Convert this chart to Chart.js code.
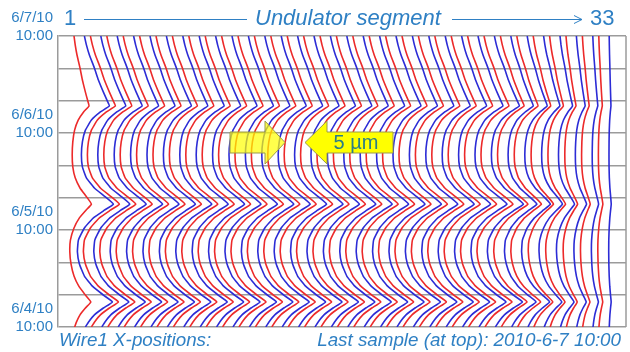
<!DOCTYPE html>
<html>
<head>
<meta charset="utf-8">
<script src="https://cdn.jsdelivr.net/npm/chart.js@4.4.1/dist/chart.umd.min.js"></script>
<style>
  html, body { margin: 0; padding: 0; background: #fff; }
  #wrap { width: 630px; height: 352px; position: relative; }
</style>
</head>
<body>
<div id="wrap"><canvas id="chart"></canvas></div>
<script>
// undulator segments 1..33, one red and one blue trace each
const segments = [1, 2, 3, 4, 5, 6, 7, 8, 9, 10, 11, 12, 13, 14, 15, 16, 17,
                  18, 19, 20, 21, 22, 23, 24, 25, 26, 27, 28, 29, 30, 31, 32, 33];
const dayLabels = ['6/4/10', '6/5/10', '6/6/10', '6/7/10'];

// hours since 6/4/10 10:00 (bottom) up to 6/7/10 10:00 (top)
const hours = [72, 69.8, 67.3, 64.1, 61.1, 58.1, 55.9, 54.7, 53.2, 51.2, 48.7, 45.8,
               42.6, 39.6, 36.9, 34.4, 32.2, 30.4, 28.9, 27, 24.5, 21.5, 18.6, 15.6,
               12.6, 10.1, 7.9, 6.2, 4.7, 3, 1.2, 0];

// typical X deviation from the last sample (µm)
const profile = [0, 0.5, 1.25, 2.5, 3.5, 4.75, 5.75, 6.25, 4, 1.75, 0.25, -0.5,
                 -0.75, -0.5, 0.5, 2.5, 5.25, 7.25, 5, 2.25, 0, -1.5, -1.75, -1.25,
                 0, 2, 4.75, 7, 4.75, 2.5, 1, 0.25];

// relative swing of each trace
const redGain = [0.6, 1, 1, 1, 1, 1, 1, 1, 1, 1, 1, 1, 1, 1, 1, 1, 1,
                 1, 1, 1, 1, 1, 1, 1, 1, 1, 0.95, 0.85, 0.7, 0.55, 0.4, 0.27, 0.14];
const blueGain = [1, 1, 1, 1, 1, 1, 1, 1, 1, 1, 1, 1, 1, 1, 1, 1, 1,
                  1, 1, 1, 1, 1, 1, 1, 1, 1, 0.9, 0.8, 0.65, 0.5, 0.35, 0.2, 0.07];

// trace spacing on the x axis (µm)
const PITCH = 4.1;
const RED_START = 4;
const BLUE_SHIFT = 2.6;

const TEXT_BLUE = '#2f80c4';
const GRID = '#9b9b9b';

function trace(base, gain) {
    return hours.map((h, i) => ({ x: base + gain * profile[i], y: h }));
}

const datasets = [];
segments.forEach((s, i) => {
    const base = RED_START + PITCH * i;
    datasets.push({
        label: 'seg ' + s + ' red',
        data: trace(base, redGain[i]),
        borderColor: 'rgb(236,42,42)',
        borderWidth: 1.6
    });
    datasets.push({
        label: 'seg ' + s + ' blue',
        data: trace(base + BLUE_SHIFT, blueGain[i]),
        borderColor: 'rgb(44,44,214)',
        borderWidth: 1.6
    });
});

function drawArrow(ctx, pts, fill) {
    ctx.beginPath();
    ctx.moveTo(pts[0][0], pts[0][1]);
    for (let i = 1; i < pts.length; i++) ctx.lineTo(pts[i][0], pts[i][1]);
    ctx.closePath();
    ctx.fillStyle = fill;
    ctx.fill();
    ctx.strokeStyle = '#9a9a4a';
    ctx.lineWidth = 1;
    ctx.stroke();
}

// frame, arrows and captions
const decor = {
    id: 'decor',
    afterDatasetsDraw(chart) {
        const ctx = chart.ctx;
        const a = chart.chartArea;
        ctx.save();
        ctx.strokeStyle = GRID;
        ctx.lineWidth = 1.5;
        ctx.beginPath();
        ctx.moveTo(a.right, a.top);
        ctx.lineTo(a.right, a.bottom);
        ctx.stroke();

        drawArrow(ctx, [[230, 132], [265, 132], [265, 121], [285, 142.5], [265, 164], [265, 153], [230, 153]],
            'rgba(255,255,0,0.7)');
        drawArrow(ctx, [[393, 132], [327, 132], [327, 121], [305, 142.5], [327, 164], [327, 153], [393, 153]],
            '#ffff00');
        ctx.fillStyle = '#2b7d86';
        ctx.font = '20px "Liberation Sans", Arial, sans-serif';
        ctx.textAlign = 'center';
        ctx.textBaseline = 'middle';
        ctx.fillText('5 µm', 356, 143);
        ctx.restore();
    },
    afterDraw(chart) {
        const ctx = chart.ctx;
        ctx.save();
        ctx.fillStyle = TEXT_BLUE;
        ctx.strokeStyle = TEXT_BLUE;
        ctx.textBaseline = 'middle';

        // header
        ctx.font = '22px "Liberation Sans", Arial, sans-serif';
        ctx.textAlign = 'center';
        ctx.fillText(String(segments[0]), 70, 19);
        ctx.textAlign = 'left';
        ctx.fillText(String(segments[segments.length - 1]), 590, 19);
        ctx.font = 'italic 22px "Liberation Sans", Arial, sans-serif';
        ctx.fillText('Undulator segment', 255, 19);

        ctx.lineWidth = 1;
        ctx.beginPath();
        ctx.moveTo(84, 19.5); ctx.lineTo(247, 19.5);
        ctx.moveTo(452, 19.5); ctx.lineTo(582, 19.5);
        ctx.moveTo(574, 15.5); ctx.lineTo(582, 19.5); ctx.lineTo(574, 23.5);
        ctx.stroke();

        // footer
        ctx.font = 'italic 18.8px "Liberation Sans", Arial, sans-serif';
        ctx.textAlign = 'left';
        ctx.fillText('Wire1 X-positions:', 59, 341);
        ctx.textAlign = 'right';
        ctx.fillText('Last sample (at top): 2010-6-7 10:00', 621, 341);
        ctx.restore();
    }
};

new Chart(document.getElementById('chart'), {
    type: 'scatter',
    data: { datasets: datasets },
    options: {
        responsive: true,
        maintainAspectRatio: false,
        animation: false,
        showLine: true,
        elements: {
            point: { radius: 0 },
            line: { tension: 0.12, fill: false }
        },
        layout: { padding: { left: 0, right: 4, top: 36, bottom: 25 } },
        plugins: {
            legend: { display: false },
            tooltip: { enabled: false },
            title: { display: false }
        },
        scales: {
            x: {
                type: 'linear',
                min: 0,
                max: 142,
                display: false
            },
            y: {
                type: 'linear',
                min: 0,
                max: 72,
                afterFit: (scale) => { scale.width = 58; },
                ticks: {
                    stepSize: 8,
                    autoSkip: false,
                    padding: 5,
                    labelOffset: -9,
                    color: TEXT_BLUE,
                    font: { family: '"Liberation Sans", Arial, sans-serif', size: 15 },
                    callback: (v) => v % 24 === 0 ? [dayLabels[v / 24], '10:00'] : ''
                },
                grid: { color: GRID, lineWidth: 1.5, drawTicks: false },
                border: { display: true, color: GRID, width: 1.5 }
            }
        }
    },
    plugins: [decor]
});
</script>
</body>
</html>
